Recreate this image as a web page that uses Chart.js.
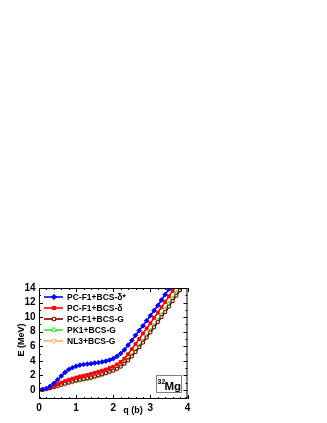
<!DOCTYPE html>
<html>
<head>
    <title>32Mg potential energy curves</title>
    <script src="https://cdn.jsdelivr.net/npm/chart.js"></script>
    <style>
        body {
            margin: 0;
            padding: 0;
            background-color: white;
        }

        #chart-box {
            position: relative;
            width: 327px;
            height: 423px;
        }
    </style>
</head>
<body>
    <div id="chart-box"><canvas id="energyChart"></canvas></div>
    <script>
        // quadrupole moment q (b), step 0.1
        const qValues = [0.0, 0.1, 0.2, 0.3, 0.4, 0.5, 0.6, 0.7, 0.8, 0.9,
                         1.0, 1.1, 1.2, 1.3, 1.4, 1.5, 1.6, 1.7, 1.8, 1.9,
                         2.0, 2.1, 2.2, 2.3, 2.4, 2.5, 2.6, 2.7, 2.8, 2.9,
                         3.0, 3.1, 3.2, 3.3, 3.4, 3.5, 3.6, 3.7, 3.8, 3.9];

        const seriesNames = ['PC-F1+BCS-\u03b4*', 'PC-F1+BCS-\u03b4', 'PC-F1+BCS-G', 'PK1+BCS-G', 'NL3+BCS-G'];

        // E (MeV)
        const pcf1DeltaStar = [0.0, 0.05, 0.2, 0.5, 0.9, 1.4, 1.9, 2.4, 2.8, 3.05,
                               3.25, 3.4, 3.5, 3.55, 3.6, 3.7, 3.75, 3.85, 3.95, 4.1,
                               4.3, 4.6, 5.0, 5.5, 6.15, 6.8, 7.5, 8.15, 8.8, 9.5,
                               10.2, 10.9, 11.6, 12.35, 13.1, 13.85, 14.6];
        const pcf1Delta = [0.0, 0.05, 0.15, 0.35, 0.55, 0.8, 1.0, 1.2, 1.4, 1.55,
                           1.7, 1.85, 1.95, 2.05, 2.2, 2.35, 2.5, 2.65, 2.8, 3.0,
                           3.2, 3.5, 3.85, 4.3, 4.9, 5.6, 6.3, 7.0, 7.75, 8.45,
                           9.15, 9.9, 10.6, 11.35, 12.1, 12.85, 13.6, 14.35];
        const pcf1G = [0.0, 0.03, 0.1, 0.25, 0.4, 0.55, 0.7, 0.85, 1.0, 1.15,
                       1.3, 1.4, 1.5, 1.6, 1.7, 1.85, 2.0, 2.15, 2.3, 2.5,
                       2.65, 2.9, 3.2, 3.6, 4.05, 4.6, 5.2, 5.85, 6.5, 7.2,
                       7.9, 8.6, 9.3, 10.0, 10.7, 11.45, 12.2, 12.95, 13.7, 14.45];
        const pk1G = [0.0, 0.03, 0.12, 0.27, 0.42, 0.57, 0.72, 0.87, 1.0, 1.12,
                      1.25, 1.35, 1.45, 1.55, 1.65, 1.8, 1.95, 2.1, 2.3, 2.5,
                      2.7, 2.95, 3.3, 3.7, 4.2, 4.75, 5.35, 6.0, 6.7, 7.4,
                      8.1, 8.8, 9.55, 10.3, 11.05, 11.8, 12.55, 13.3, 14.05];
        const nl3G = [0.0, 0.02, 0.1, 0.22, 0.36, 0.5, 0.65, 0.8, 0.95, 1.08,
                      1.2, 1.3, 1.4, 1.5, 1.62, 1.75, 1.9, 2.05, 2.25, 2.45,
                      2.65, 2.9, 3.25, 3.65, 4.15, 4.7, 5.3, 5.95, 6.65, 7.35,
                      8.05, 8.75, 9.5, 10.25, 11.0, 11.75, 12.5, 13.25, 14.0];

        const xTicks = [0, 1, 2, 3, 4];
        const yTicks = [0, 2, 4, 6, 8, 10, 12, 14];

        const allSeries = [pcf1DeltaStar, pcf1Delta, pcf1G, pk1G, nl3G];
        const styles = [
            { color: '#0000ff', fill: '#0000ff', point: 'rectRot', radius: 2.3, rotation: 0 },
            { color: '#ff0000', fill: '#ff0000', point: 'rect', radius: 2.0, rotation: 0 },
            { color: '#800000', fill: '#ffffff', point: 'rect', radius: 2.0, rotation: 0 },
            { color: '#22ee22', fill: '#ffffff', point: 'triangle', radius: 2.4, rotation: 0 },
            { color: '#ffb070', fill: '#ffffff', point: 'triangle', radius: 2.4, rotation: 180 }
        ];

        const datasets = allSeries.map((vals, i) => ({
            label: seriesNames[i],
            data: vals.map((e, k) => ({ x: qValues[k], y: e })),
            borderColor: styles[i].color,
            backgroundColor: styles[i].fill,
            pointBorderColor: styles[i].color,
            pointBackgroundColor: styles[i].fill,
            pointStyle: styles[i].point,
            pointRadius: styles[i].radius,
            pointRotation: styles[i].rotation,
            pointBorderWidth: 1,
            borderWidth: 1.6,
            tension: 0
        }));

        const fontFamily = '"Liberation Sans", Arial, sans-serif';

        // frame, inward ticks, legend, titles, nucleus label
        const decorations = {
            id: 'decorations',
            afterDraw(chart) {
                const ctx = chart.ctx;
                const a = chart.chartArea;
                const xs = chart.scales.x;
                const ys = chart.scales.y;
                ctx.save();
                ctx.strokeStyle = '#000';
                ctx.lineWidth = 1;
                ctx.strokeRect(a.left + 0.5, a.top + 0.5, a.right - a.left - 1, a.bottom - a.top - 1);

                ctx.beginPath();
                for (let i = 0; i <= 20; i++) {
                    const v = i * 0.2;
                    const px = Math.round(xs.getPixelForValue(v)) + 0.5;
                    const len = (i % 5 === 0) ? 4 : 2;
                    ctx.moveTo(px, a.bottom); ctx.lineTo(px, a.bottom - len);
                    ctx.moveTo(px, a.top); ctx.lineTo(px, a.top + len);
                }
                for (let v = -1; v <= 14; v++) {
                    const py = Math.round(ys.getPixelForValue(v)) + 0.5;
                    const len = (v % 2 === 0) ? 4 : 2;
                    ctx.moveTo(a.left, py); ctx.lineTo(a.left + len, py);
                    ctx.moveTo(a.right, py); ctx.lineTo(a.right - len, py);
                }
                ctx.stroke();

                // legend
                const rowY = [297, 308, 319, 330, 341];
                chart.data.datasets.forEach((ds, i) => {
                    const y = rowY[i];
                    ctx.strokeStyle = ds.borderColor;
                    ctx.lineWidth = 1.6;
                    ctx.beginPath();
                    ctx.moveTo(44, y); ctx.lineTo(63, y);
                    ctx.stroke();
                    ctx.lineWidth = 1;
                    ctx.fillStyle = ds.pointBackgroundColor;
                    ctx.strokeStyle = ds.pointBorderColor;
                    Chart.helpers.drawPoint(ctx, {
                        pointStyle: ds.pointStyle,
                        radius: ds.pointRadius + 0.3,
                        rotation: ds.pointRotation,
                        borderWidth: 1
                    }, 54, y);
                    ctx.fillStyle = '#000';
                    ctx.font = 'bold 8.5px ' + fontFamily;
                    ctx.textAlign = 'left';
                    ctx.textBaseline = 'middle';
                    ctx.fillText(ds.label, 67, y + 0.5);
                });

                // axis titles
                ctx.fillStyle = '#000';
                ctx.font = 'bold 9px ' + fontFamily;
                ctx.textAlign = 'center';
                ctx.textBaseline = 'middle';
                ctx.fillText('q (b)', 133, 410.5);
                ctx.save();
                ctx.translate(22, 340);
                ctx.rotate(-Math.PI / 2);
                ctx.fillText('E (MeV)', 0, 0);
                ctx.restore();

                // 32Mg box
                ctx.strokeStyle = '#808080';
                ctx.lineWidth = 1;
                ctx.strokeRect(156.5, 375.5, 25, 17);
                ctx.fillStyle = '#000';
                ctx.textAlign = 'left';
                ctx.textBaseline = 'alphabetic';
                ctx.font = 'bold 7px ' + fontFamily;
                ctx.fillText('32', 157.5, 384);
                ctx.font = 'bold 11.5px ' + fontFamily;
                ctx.fillText('Mg', 164.5, 389.5);
                ctx.restore();
            }
        };

        new Chart(document.getElementById('energyChart'), {
            type: 'line',
            data: { datasets: datasets },
            options: {
                responsive: true,
                maintainAspectRatio: false,
                animation: false,
                layout: { padding: { left: 19, right: 139.5, top: 288, bottom: 8 } },
                plugins: { legend: { display: false }, tooltip: { enabled: false } },
                scales: {
                    x: {
                        type: 'linear',
                        min: 0,
                        max: 4,
                        afterFit(scale) { scale.height = 16; },
                        afterBuildTicks(scale) { scale.ticks = xTicks.map(v => ({ value: v })); },
                        grid: { display: false, drawTicks: false },
                        border: { display: false },
                        ticks: { padding: 3, color: '#000', font: { family: fontFamily, size: 10, weight: 'bold' } }
                    },
                    y: {
                        type: 'linear',
                        min: -1.25,
                        max: 14,
                        afterFit(scale) { scale.width = 20; },
                        afterBuildTicks(scale) { scale.ticks = yTicks.map(v => ({ value: v })); },
                        grid: { display: false, drawTicks: false },
                        border: { display: false },
                        ticks: { padding: 3.5, color: '#000', font: { family: fontFamily, size: 10, weight: 'bold' } }
                    }
                }
            },
            plugins: [decorations]
        });
    </script>
</body>
</html>
